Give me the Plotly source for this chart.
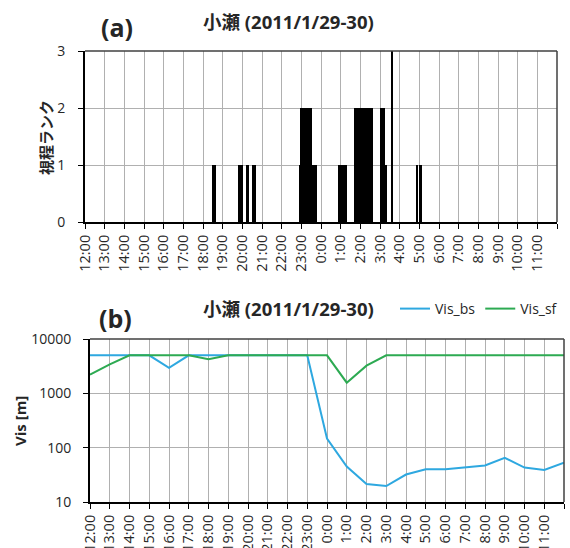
import plotly.graph_objects as go

# ---------------- data ----------------
hour_labels_a = ["12:00", "13:00", "14:00", "15:00", "16:00", "17:00", "18:00", "19:00",
                 "20:00", "21:00", "22:00", "23:00", "0:00", "1:00", "2:00", "3:00",
                 "4:00", "5:00", "6:00", "7:00", "8:00", "9:00", "10:00", "11:00", ""]
hour_labels_b = ["12:00", "13:00", "14:00", "15:00", "16:00", "17:00", "18:00", "19:00",
                 "20:00", "21:00", "22:00", "23:00", "0:00", "1:00", "2:00", "3:00",
                 "4:00", "5:00", "6:00", "7:00", "8:00", "9:00", "10:00", "11:00", "12:00"]

# visibility rank episodes (start / end clock time, rank)
rank_start = ["18:26", "19:47", "20:10", "20:31", "22:53", "22:56", "23:34", "0:51",
              "1:41", "2:59", "3:14", "3:36", "4:50", "4:59"]
rank_end = ["18:40", "20:03", "20:20", "20:41", "22:56", "23:34", "23:49", "1:18",
            "2:40", "3:14", "3:20", "3:39", "4:56", "5:09"]
rank_value = [1, 1, 1, 1, 1, 2, 1, 1, 2, 2, 1, 3, 1, 1]

# hourly visibility [m], 12:00 (1/29) .. 12:00 (1/30)
vis_bs = [5000, 5000, 5000, 5000, 2950, 5000, 5000, 5000, 5000, 5000, 5000, 5000,
          147, 45, 21.4, 19.7, 32, 40, 40, 43, 47, 65, 43, 39, 53]
vis_sf = [2200, 3400, 5000, 5000, 5000, 5000, 4250, 5000, 5000, 5000, 5000, 5000,
          5000, 1570, 3230, 5000, 5000, 5000, 5000, 5000, 5000, 5000, 5000, 5000, 5000]

# ---------------- helpers ----------------
def to_hours(t):
    h, m = t.split(":")
    return (int(h) - 12) % 24 + int(m) / 60.0

starts = [to_hours(t) for t in rank_start]
ends = [to_hours(t) for t in rank_end]
mids = [(s + e) / 2 for s, e in zip(starts, ends)]
widths = [e - s for s, e in zip(starts, ends)]
hours = list(range(len(vis_bs)))

W, H = 570, 548
FONT = "Open Sans, Noto Sans CJK JP, sans-serif"
TXT = "#262626"
GRID = "#b0b0b0"

fig = go.Figure()

fig.add_trace(go.Bar(x=mids, y=rank_value, width=widths, marker=dict(color="black", line=dict(width=0)),
                     xaxis="x", yaxis="y", showlegend=False))

fig.add_trace(go.Scatter(x=hours, y=vis_bs, mode="lines", name="Vis_bs",
                         line=dict(color="#2EA8E0", width=2), xaxis="x2", yaxis="y2"))
fig.add_trace(go.Scatter(x=hours, y=vis_sf, mode="lines", name="Vis_sf",
                         line=dict(color="#2DAA52", width=2), xaxis="x2", yaxis="y2"))

def px_x(p):
    return p / W

def px_y(p):
    return 1 - p / H

xa_common = dict(range=[0, 24], tickmode="array", tickvals=list(range(25)), tickangle=-90,
                 showgrid=True, gridcolor=GRID, gridwidth=1, showline=True, linecolor="black",
                 linewidth=2, ticks="outside", ticklen=5, tickcolor="black", tickwidth=1,
                 tickfont=dict(family=FONT, size=14.5, color=TXT), automargin=False, zeroline=False,
                 fixedrange=True)

fig.update_layout(
    width=W, height=H, margin=dict(l=0, r=0, t=0, b=0),
    paper_bgcolor="white", plot_bgcolor="white", bargap=0,
    xaxis=dict(domain=[px_x(85), px_x(557)], anchor="y", ticktext=hour_labels_a, **xa_common),
    yaxis=dict(domain=[px_y(222), px_y(51)], anchor="x", range=[0, 3], tickvals=[0, 1, 2, 3],
               showgrid=True, gridcolor=GRID, showline=True, linecolor="black", linewidth=2,
               ticks="outside", ticklen=5, tickcolor="black", ticklabelstandoff=10,
               tickfont=dict(family=FONT, size=14, color=TXT), zeroline=False, automargin=False),
    xaxis2=dict(domain=[px_x(90), px_x(564)], anchor="y2", ticktext=hour_labels_b, **xa_common),
    yaxis2=dict(domain=[px_y(502), px_y(339)], anchor="x2", type="log", range=[1, 4],
                tickvals=[10, 100, 1000, 10000], ticktext=["10", "100", "1000", "10000"],
                showgrid=True, gridcolor=GRID, showline=True, linecolor="black", linewidth=2,
                ticks="outside", ticklen=5, tickcolor="black", ticklabelstandoff=9,
                tickfont=dict(family=FONT, size=14, color=TXT), zeroline=False, automargin=False),
    legend=dict(orientation="h", x=px_x(395), y=px_y(309), xanchor="left", yanchor="middle",
                font=dict(family=FONT, size=14, color=TXT), bgcolor="rgba(0,0,0,0)",
                itemwidth=30, tracegroupgap=0),
    font=dict(family=FONT, color=TXT),
)

# frames (top/right edges)
for xr, yr in (("x domain", "y domain"), ("x2 domain", "y2 domain")):
    fig.add_shape(type="line", xref=xr, yref=yr, x0=0, x1=1, y0=1, y1=1,
                  line=dict(color="#404040", width=1.5), layer="above")
    fig.add_shape(type="line", xref=xr, yref=yr, x0=1, x1=1, y0=0, y1=1,
                  line=dict(color="#404040", width=1.5), layer="above")

ann = [
    dict(text="<b>(a)</b>", x=px_x(117), y=px_y(27), size=25),
    dict(text="<b>小瀬 (2011/1/29-30)</b>", x=px_x(288), y=px_y(21), size=18.5),
    dict(text="<b>(b)</b>", x=px_x(115), y=px_y(318), size=25),
    dict(text="<b>小瀬 (2011/1/29-30)</b>", x=px_x(288), y=px_y(308), size=18.5),
]
for a in ann:
    fig.add_annotation(text=a["text"], x=a["x"], y=a["y"], xref="paper", yref="paper",
                       showarrow=False, xanchor="center", yanchor="middle",
                       font=dict(family=FONT, size=a["size"], color=TXT))

fig.add_annotation(text="<b>視程ランク</b>", x=px_x(46), y=px_y(138), xref="paper", yref="paper",
                   showarrow=False, textangle=-90, xanchor="center", yanchor="middle",
                   font=dict(family=FONT, size=15, color=TXT))
fig.add_annotation(text="<b>Vis [m]</b>", x=px_x(20), y=px_y(421), xref="paper", yref="paper",
                   showarrow=False, textangle=-90, xanchor="center", yanchor="middle",
                   font=dict(family=FONT, size=15, color=TXT))

fig.write_html("out.html")
